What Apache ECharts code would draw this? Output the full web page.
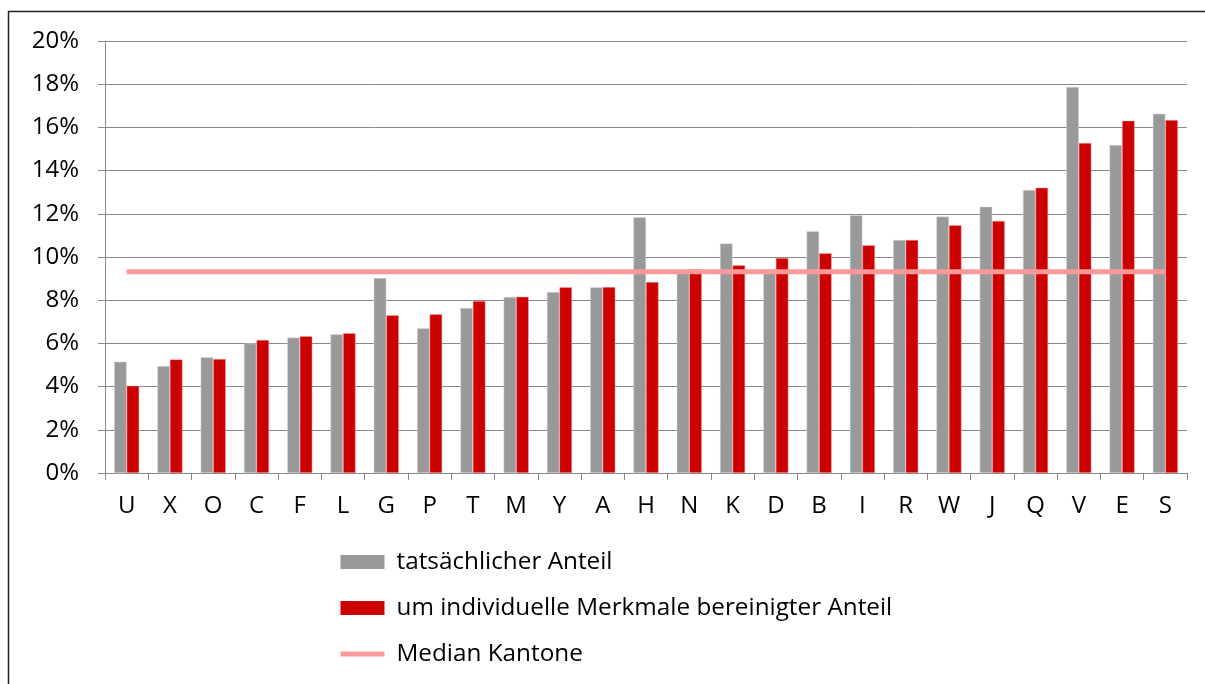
<!DOCTYPE html>
<html>
<head>
<meta charset="utf-8">
<script src="https://cdn.jsdelivr.net/npm/echarts@6/dist/echarts.min.js"></script>
<style>
html,body{margin:0;padding:0;background:#fff;}
#chart{width:1205px;height:684px;}
</style>
</head>
<body>
<div id="chart"></div>
<script>
const categories = ['U','X','O','C','F','L','G','P','T','M','Y','A','H','N','K','D','B','I','R','W','J','Q','V','E','S'];
const actualShare = [5.15,4.95,5.36,5.99,6.27,6.42,9.03,6.70,7.64,8.15,8.38,8.60,11.84,9.25,10.63,9.43,11.19,11.93,10.79,11.87,12.33,13.10,17.87,15.19,16.63];
const adjustedShare = [4.04,5.26,5.28,6.16,6.33,6.47,7.30,7.35,7.96,8.16,8.60,8.61,8.84,9.43,9.62,9.95,10.17,10.54,10.79,11.47,11.67,13.21,15.28,16.31,16.34];
const medianValue = 9.32;
const yTicks = {min: 0, max: 20, interval: 2};
const seriesNames = ['tatsächlicher Anteil','um individuelle Merkmale bereinigter Anteil','Median Kantone'];

const FONT = 'Open Sans';
const chart = echarts.init(document.getElementById('chart'), null, {renderer: 'canvas'});
chart.setOption({
  animation: false,
  backgroundColor: '#fff',
  textStyle: {fontFamily: FONT},
  graphic: [{
    type: 'rect', silent: true, z: -1,
    shape: {x: 8.5, y: 11.5, width: 1300, height: 800},
    style: {fill: 'none', stroke: '#222', lineWidth: 1.5}
  }],
  grid: {left: 105, right: 18, top: 41, bottom: 211, containLabel: false},
  legend: {
    orient: 'vertical', left: 338, top: 550, padding: 0,
    itemWidth: 44, itemHeight: 14, itemGap: 22,
    itemStyle: {borderWidth: 0},
    textStyle: {fontFamily: FONT, fontSize: 24.3, lineHeight: 24, color: '#000', padding: [0,0,0,7]},
    data: [
      {name: seriesNames[0], icon: 'rect'},
      {name: seriesNames[1], icon: 'rect'},
      {name: seriesNames[2], itemStyle: {opacity: 0}, lineStyle: {width: 5, color: '#FF9999'}}
    ]
  },
  xAxis: {
    type: 'category', data: categories, boundaryGap: true,
    axisLine: {lineStyle: {color: '#888', width: 1}},
    axisTick: {show: true, length: 7, alignWithLabel: false, lineStyle: {color: '#888'}},
    axisLabel: {fontFamily: FONT, fontSize: 24, color: '#000', margin: 21}
  },
  yAxis: {
    type: 'value', min: yTicks.min, max: yTicks.max, interval: yTicks.interval,
    axisLine: {show: true, lineStyle: {color: '#888', width: 1}},
    axisTick: {show: true, length: 7, inside: false, lineStyle: {color: '#888'}},
    splitLine: {show: true, lineStyle: {color: '#888', width: 1}},
    axisLabel: {fontFamily: FONT, fontSize: 24, color: '#000', margin: 26, formatter: '{value}%'}
  },
  series: [
    {
      name: seriesNames[0], type: 'bar', data: actualShare,
      barGap: '0%', barCategoryGap: '42%',
      itemStyle: {color: '#999999', borderColor: '#dddddd', borderWidth: 0.5}
    },
    {
      name: seriesNames[1], type: 'bar', data: adjustedShare,
      barGap: '0%', barCategoryGap: '42%',
      itemStyle: {color: '#CC0000', borderColor: '#f2b0b0', borderWidth: 0.5}
    },
    {
      name: seriesNames[2], type: 'line',
      data: [[categories[0], medianValue], [categories[categories.length-1], medianValue]],
      symbol: 'none', showSymbol: false, z: 5,
      lineStyle: {color: '#FF9999', width: 5},
      itemStyle: {color: '#FF9999'}
    }
  ]
});
</script>
</body>
</html>
